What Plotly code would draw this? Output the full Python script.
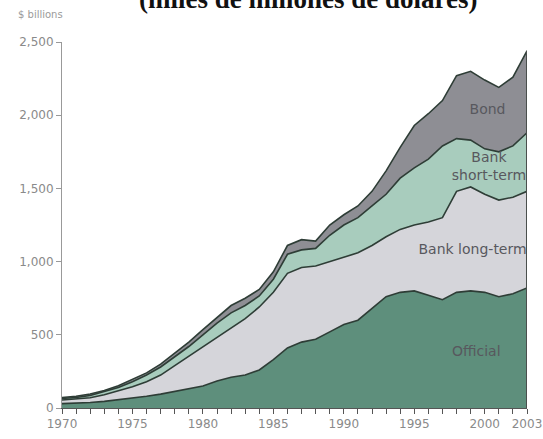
import plotly.graph_objects as go

years = list(range(1970, 2004))
official = [30, 33, 38, 45, 55, 65, 80, 95, 115, 130, 150, 185, 210, 225, 260, 330, 410,
            450, 470, 520, 570, 600, 680, 760, 790, 800, 770, 740, 790, 800, 790, 760, 780, 820]
bank_long = [25, 27, 32, 45, 60, 80, 100, 130, 175, 225, 270, 295, 340, 385, 430, 460, 510,
             510, 500, 480, 460, 460, 430, 410, 430, 450, 500, 560, 690, 710, 670, 660, 660, 660]
bank_short = [10, 12, 15, 20, 25, 35, 45, 55, 60, 65, 80, 100, 100, 90, 75, 90, 130,
              120, 120, 180, 220, 240, 270, 290, 350, 390, 430, 490, 360, 320, 310, 330, 350, 400]
bond = [7, 8, 10, 10, 12, 15, 15, 20, 25, 30, 35, 40, 50, 50, 45, 50, 60,
        70, 50, 70, 70, 80, 100, 160, 210, 290, 310, 310, 430, 470, 470, 440, 470, 560]

series_names = ["Official", "Bank long-term", "Bank short-term", "Bond"]
series_vals = [official, bank_long, bank_short, bond]
colors = ["#5e8f7c", "#d5d5da", "#a8ccbd", "#8e8e94"]

y_ticks = [0, 500, 1000, 1500, 2000, 2500]
x_label_years = [1970, 1975, 1980, 1985, 1990, 1995, 2000, 2003]

fig = go.Figure()
for name, vals, col in zip(series_names, series_vals, colors):
    fig.add_trace(go.Scatter(
        x=years, y=vals, name=name, stackgroup="one", mode="lines",
        line=dict(color="#2e3d36", width=1.6), fillcolor=col,
        hoverinfo="skip"))

total = [a + b + c + d for a, b, c, d in zip(official, bank_long, bank_short, bond)]
fig.add_trace(go.Scatter(x=[years[-1], years[-1]], y=[0, total[-1]], mode="lines",
                         line=dict(color="#4a4f4d", width=2), hoverinfo="skip"))

lab_font = dict(family="DejaVu Sans, sans-serif", size=14, color="#58585e")
# series labels as text traces so they are clipped by the plot area
fig.add_trace(go.Scatter(
    x=[2000.2, 2000.3, 1995.3, 1999.4],
    y=[2035, 1640, 1079, 376],
    text=["Bond", "Bank<br>short-term", "Bank long-term", "Official"],
    mode="text",
    textposition=["middle center", "middle center", "middle right", "middle center"],
    textfont=lab_font, hoverinfo="skip", cliponaxis=True))

fig.add_annotation(xref="paper", yref="paper", x=0.53, y=1.0, yshift=42 + 1,
                   text="<b>(miles de millones de dólares)</b>", showarrow=False,
                   font=dict(family="Liberation Serif, Times New Roman, serif", size=27, color="#111"),
                   xanchor="center", yanchor="middle")
fig.add_annotation(xref="paper", yref="paper", x=-0.1, y=1.0, yshift=28,
                   text="$ billions", showarrow=False,
                   font=dict(family="DejaVu Sans, sans-serif", size=10, color="#9a9a9a"),
                   xanchor="left", yanchor="middle")

fig.update_layout(
    width=543, height=439,
    margin=dict(l=62, r=16, t=42, b=31),
    paper_bgcolor="white", plot_bgcolor="white",
    showlegend=False,
    font=dict(family="DejaVu Sans, sans-serif", size=12, color="#8a8a8a"),
)
fig.update_xaxes(
    range=[1970, 2003], tickmode="array", tickvals=years,
    ticktext=[str(y) if y in x_label_years else "" for y in years],
    ticks="outside", ticklen=5, tickcolor="#555", showgrid=False, zeroline=False,
    showline=True, linecolor="#555", linewidth=1, automargin=False,
    ticklabeloverflow="allow",
    tickfont=dict(family="DejaVu Sans, sans-serif", size=12, color="#8a8a8a"),
)
fig.update_yaxes(
    range=[0, 2500], tickmode="array", tickvals=y_ticks,
    ticktext=[f"{v:,}" for v in y_ticks],
    ticks="outside", ticklen=5, tickcolor="#999", showgrid=False, zeroline=False,
    showline=True, linecolor="#999", linewidth=1, automargin=False,
    tickfont=dict(family="DejaVu Sans, sans-serif", size=12, color="#8a8a8a"),
)

fig.write_html("out.html", config={"displayModeBar": False},
               post_script="document.body.style.margin='0';")
